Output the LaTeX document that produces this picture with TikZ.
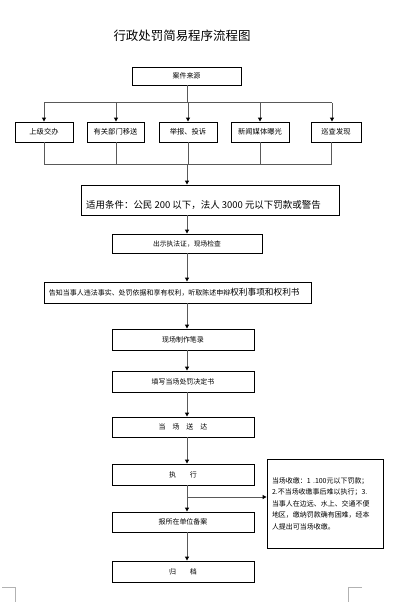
\documentclass[tikz,border=0pt]{standalone}
\usepackage{fontspec}
\setmainfont{Noto Sans CJK SC}
\usetikzlibrary{arrows.meta}
\begin{document}
\begin{tikzpicture}[x=1bp,y=-1bp,
  box/.style={draw=black, line width=0.9bp, inner sep=0bp, font=\fontsize{7}{8}\selectfont},
  conn/.style={draw=black!65, line width=1bp},
  arr/.style={conn, -{Triangle[length=4bp,width=4bp,black]}},
  cornermark/.style={draw=black!30, line width=0.9bp}]
\useasboundingbox (0,0) rectangle (409,608);
% title
\node[font=\fontsize{12.5}{14}\selectfont] (title) at (182,36) {行政处罚简易程序流程图};
% source
\node[box, minimum width=109bp, minimum height=18bp] (src) at (186.5,76) {案件来源};
% five sources
\node[box, font=\fontsize{7.3}{8}\selectfont, minimum width=58bp, minimum height=20bp] (b1) at (44,132) {上级交办};
\node[box, font=\fontsize{7.3}{8}\selectfont, minimum width=57bp, minimum height=20bp] (b2) at (115.5,132) {有关部门移送};
\node[box, font=\fontsize{7.3}{8}\selectfont, minimum width=58bp, minimum height=20bp] (b3) at (188,132) {举报、投诉};
\node[box, font=\fontsize{7.3}{8}\selectfont, minimum width=58bp, minimum height=20bp] (b4) at (260,132) {新闻媒体曝光};
\node[box, font=\fontsize{7.3}{8}\selectfont, minimum width=50bp, minimum height=20bp] (b5) at (336,132) {巡查发现};
% condition
\node[box, minimum width=258bp, minimum height=30bp] (cond) at (210,200) {};
\node[anchor=west, inner sep=0bp, font=\fontsize{9.5}{11}\selectfont] (condtxt) at (86,205) {适用条件：公民 200 以下，法人 3000 元以下罚款或警告};
% steps
\node[box, font=\fontsize{6.8}{8}\selectfont, minimum width=150bp, minimum height=19bp] (show) at (187,243.5) {出示执法证，现场检查};
\node[box, text width=257bp, inner xsep=5bp, align=left, minimum height=21bp] (notify) at (177.5,292.5) {告知当事人违法事实、处罚依据和享有权利，听取陈述申辩{\fontsize{8.7}{9}\selectfont 权利事项和权利书}};
\node[box, minimum width=142bp, minimum height=21bp] (rec) at (183,339.5) {现场制作笔录};
\node[box, minimum width=142bp, minimum height=21bp] (fill) at (183,381.5) {填写当场处罚决定书};
\node[box, minimum width=142bp, minimum height=20bp] (deliver) at (183,427) {当\quad 场\quad 送\quad 达};
\node[box, minimum width=142bp, minimum height=21bp] (exec) at (183,474.5) {执\qquad 行};
\node[box, minimum width=142bp, minimum height=20bp] (report) at (183,522) {报所在单位备案};
\node[box, minimum width=142bp, minimum height=21bp] (archive) at (183,571.5) {归\qquad 档};
\node[box, text width=106bp, inner xsep=5bp, align=left, minimum height=89bp, font=\fontsize{7}{11.6}\selectfont] (note) at (325,503.5) {当场收缴：1 .100元以下罚款；\\2.不当场收缴事后难以执行；3.\\当事人在边远、水上、交通不便\\地区，缴纳罚款确有困难，经本\\人提出可当场收缴。};
% coordinates
\coordinate (spine) at (187,0);
\coordinate (t0) at (187,103);
\coordinate (t1) at (44,103);
\coordinate (t2) at (116,103);
\coordinate (t3) at (188,103);
\coordinate (t4) at (260,103);
\coordinate (t5) at (332,103);
\coordinate (u1) at (44,165);
\coordinate (u2) at (116,165);
\coordinate (u3) at (188,165);
\coordinate (u4) at (260,165);
\coordinate (u5) at (331,165);
\coordinate (u0) at (187,165);
\coordinate (j) at (187,497);
% connectors
\draw[conn] (src.south -| t0) -- (t0);
\draw[conn] (t1) -- (t5);
\draw[arr] (t1) -- (t1 |- b1.north);
\draw[arr] (t2) -- (t2 |- b2.north);
\draw[arr] (t3) -- (t3 |- b3.north);
\draw[arr] (t4) -- (t4 |- b4.north);
\draw[arr] (t5) -- (t5 |- b5.north);
\draw[conn] (u1 |- b1.south) -- (u1);
\draw[conn] (u2 |- b2.south) -- (u2);
\draw[conn] (u3 |- b3.south) -- (u3);
\draw[conn] (u4 |- b4.south) -- (u4);
\draw[conn] (u5 |- b5.south) -- (u5);
\draw[conn] (u1) -- (u5);
\draw[arr] (u0) -- (u0 |- cond.north);
\draw[arr] (cond.south -| spine) -- (show.north -| spine);
\draw[arr] (show.south -| spine) -- (notify.north -| spine);
\draw[arr] (notify.south -| spine) -- (rec.north -| spine);
\draw[arr] (rec.south -| spine) -- (fill.north -| spine);
\draw[arr] (fill.south -| spine) -- (deliver.north -| spine);
\draw[arr] (deliver.south -| spine) -- (exec.north -| spine);
\draw[arr] (exec.south -| spine) -- (report.north -| spine);
\draw[arr] (j) -- (j -| note.west);
\draw[arr] (report.south -| spine) -- (archive.north -| spine);
% page corner marks
\draw[cornermark] (2,587) -- (15,587) -- (15,602);
\draw[cornermark] (362,587) -- (348,587) -- (348,602);
\end{tikzpicture}
\end{document}
